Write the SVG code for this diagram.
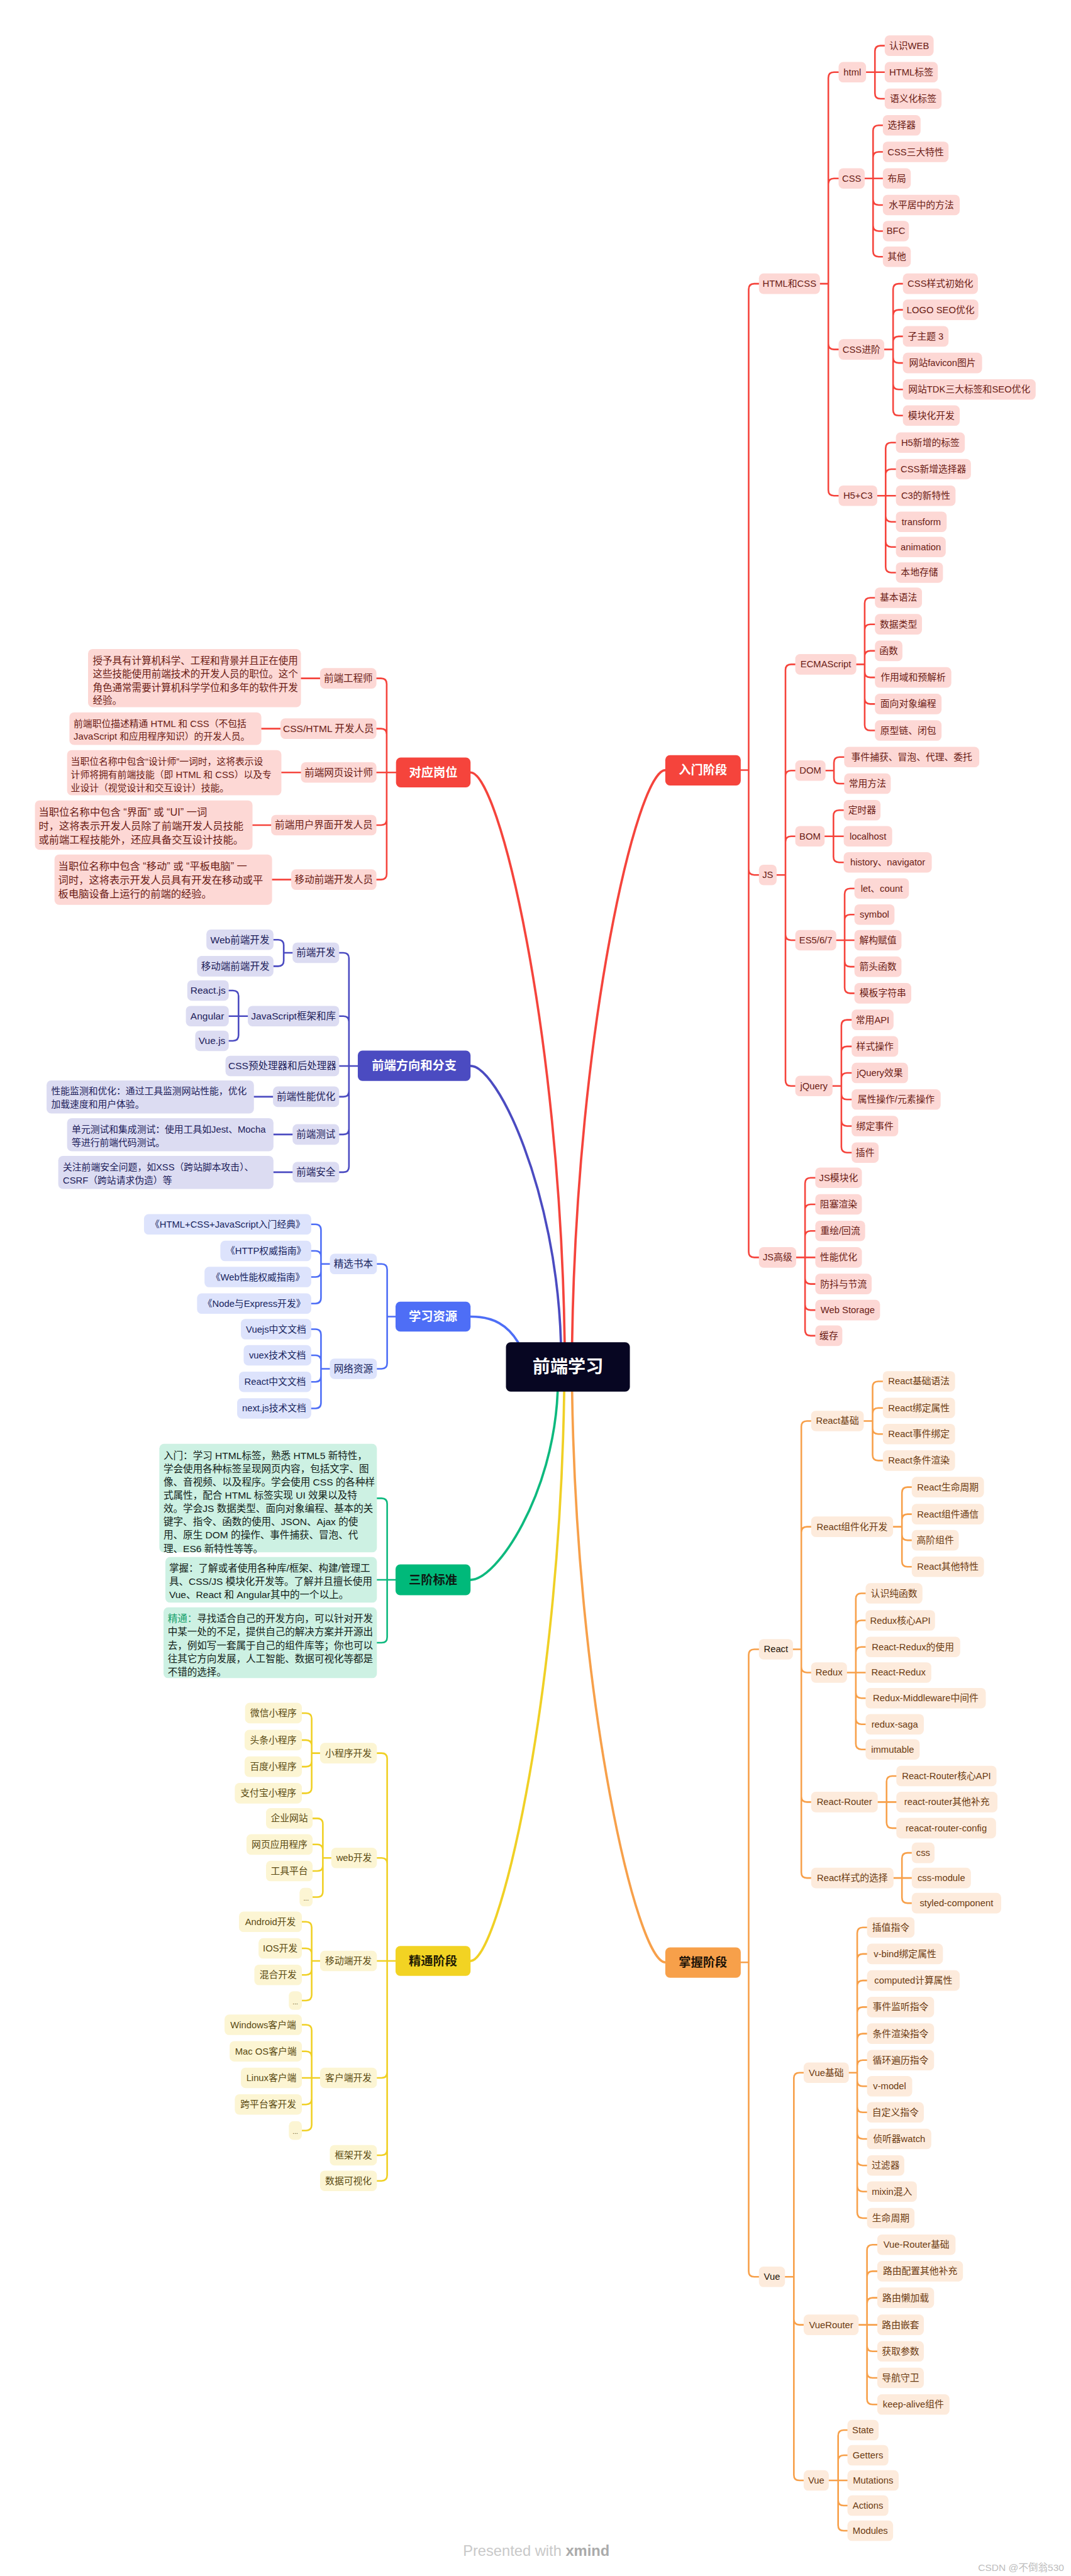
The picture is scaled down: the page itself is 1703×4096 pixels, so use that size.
<svg xmlns="http://www.w3.org/2000/svg" width="1703" height="4096" viewBox="0 0 1703 4096">
<style>
text{font-family:"Liberation Sans","Noto Sans CJK SC",sans-serif}
rect{rx:10px}
.n text{text-anchor:middle;dominant-baseline:central;font-size:20px}
.L .n text{font-size:21px}
.B .lf text{font-size:20px}
.d text{dominant-baseline:central;font-size:21px}
.m text{text-anchor:middle;dominant-baseline:central;font-size:26px;font-weight:bold}
.R rect{fill:#FDD8D5}.R text{fill:#6A1B14}
.P rect{fill:#DCDCF2}.P text{fill:#20205A}
.B rect{fill:#DDE3FC}.B text{fill:#17235E}
.G rect{fill:#CDF1E3}.G text{fill:#122018}
.Y rect{fill:#FCF5D3}.Y text{fill:#5A4A12}
.O rect{fill:#FDEBDC}.O text{fill:#6B3A10}
.c{fill:none;stroke-width:3.5;stroke-linecap:round;stroke-linejoin:round}
.mc{fill:none;stroke-width:5;stroke-linecap:round}
.sR{stroke:#F5443C}.sP{stroke:#4B4BC1}.sB{stroke:#4E6EF6}.sG{stroke:#0DB97E}.sY{stroke:#F0D025}.sO{stroke:#F7A04A}
</style>
<rect width="1703" height="4096" fill="#ffffff" style="rx:0"/>
<g transform="scale(0.7408)">
<g id="connectors">
<path class="mc sR" d="M1228 2881C1238 2206 1368 1653 1428 1653"/>
<path class="mc sO" d="M1228 2987C1238 3661 1368 4212 1428 4212"/>
<path class="mc sR" d="M1212 2881C1202 2208 1071 1658 1010 1658"/>
<path class="mc sP" d="M1204 2881C1194 2555 1068 2288 1010 2288"/>
<path class="mc sB" d="M1112 2881C1090 2845 1060 2826 1010 2826"/>
<path class="mc sG" d="M1197 2987C1188 3209 1066 3391 1010 3391"/>
<path class="mc sY" d="M1211 2987C1201 3659 1070 4209 1010 4209"/>
<path class="c sR" d="M1590 1653H1607M1607 1653V621Q1607 609 1619 609H1629M1607 1653V1866Q1607 1878 1619 1878H1629M1607 1653V2687Q1607 2699 1619 2699H1629"/>
<path class="c sR" d="M1760 609H1778M1778 609V167Q1778 155 1790 155H1800M1778 609V395Q1778 383 1790 383H1800M1778 609V738Q1778 750 1790 750H1800M1778 609V1052Q1778 1064 1790 1064H1800"/>
<path class="c sR" d="M1859 155H1899M1878 155V110Q1878 98 1890 98H1899M1878 155V200Q1878 212 1890 212H1899"/>
<path class="c sR" d="M1856 383H1895M1874 383V281Q1874 269 1886 269H1895M1874 383V338Q1874 326 1886 326H1895M1874 383V428Q1874 440 1886 440H1895M1874 383V484Q1874 496 1886 496H1895M1874 383V539Q1874 551 1886 551H1895"/>
<path class="c sR" d="M1898 750H1917M1917 750V621Q1917 609 1929 609H1938M1917 750V677Q1917 665 1929 665H1938M1917 750V734Q1917 722 1929 722H1938M1917 750V767Q1917 779 1929 779H1938M1917 750V824Q1917 836 1929 836H1938M1917 750V880Q1917 892 1929 892H1938"/>
<path class="c sR" d="M1883 1064H1923M1901 1064V962Q1901 950 1913 950H1923M1901 1064V1019Q1901 1007 1913 1007H1923M1901 1064V1108Q1901 1120 1913 1120H1923M1901 1064V1162Q1901 1174 1913 1174H1923M1901 1064V1217Q1901 1229 1913 1229H1923"/>
<path class="c sR" d="M1667 1878H1686M1686 1878V1438Q1686 1426 1698 1426H1707M1686 1878V1666Q1686 1654 1698 1654H1707M1686 1878V1807Q1686 1795 1698 1795H1707M1686 1878V2006Q1686 2018 1698 2018H1707M1686 1878V2319Q1686 2331 1698 2331H1707"/>
<path class="c sR" d="M1838 1426H1856M1856 1426V1295Q1856 1283 1868 1283H1878M1856 1426V1352Q1856 1340 1868 1340H1878M1856 1426V1409Q1856 1397 1868 1397H1878M1856 1426V1442Q1856 1454 1868 1454H1878M1856 1426V1499Q1856 1511 1868 1511H1878M1856 1426V1556Q1856 1568 1868 1568H1878"/>
<path class="c sR" d="M1772 1654H1790M1790 1654V1637Q1790 1625 1802 1625H1812M1790 1654V1670Q1790 1682 1802 1682H1812"/>
<path class="c sR" d="M1770 1795H1811M1789 1795V1751Q1789 1739 1801 1739H1811M1789 1795V1839Q1789 1851 1801 1851H1811"/>
<path class="c sR" d="M1795 2018H1834M1813 2018V1919Q1813 1907 1825 1907H1834M1813 2018V1975Q1813 1963 1825 1963H1834M1813 2018V2063Q1813 2075 1825 2075H1834M1813 2018V2120Q1813 2132 1825 2132H1834"/>
<path class="c sR" d="M1787 2331H1806M1806 2331V2201Q1806 2189 1818 2189H1828M1806 2331V2258Q1806 2246 1818 2246H1828M1806 2331V2315Q1806 2303 1818 2303H1828M1806 2331V2348Q1806 2360 1818 2360H1828M1806 2331V2405Q1806 2417 1818 2417H1828M1806 2331V2462Q1806 2474 1818 2474H1828"/>
<path class="c sR" d="M1709 2699H1750M1728 2699V2540Q1728 2528 1740 2528H1750M1728 2699V2597Q1728 2585 1740 2585H1750M1728 2699V2654Q1728 2642 1740 2642H1750M1728 2699V2744Q1728 2756 1740 2756H1750M1728 2699V2800Q1728 2812 1740 2812H1750M1728 2699V2855Q1728 2867 1740 2867H1750"/>
<path class="c sO" d="M1590 4212H1607M1607 4212V3552Q1607 3540 1619 3540H1629M1607 4212V4875Q1607 4887 1619 4887H1629"/>
<path class="c sO" d="M1702 3540H1720M1720 3540V3062Q1720 3050 1732 3050H1741M1720 3540V3289Q1720 3277 1732 3277H1741M1720 3540V3578Q1720 3590 1732 3590H1741M1720 3540V3856Q1720 3868 1732 3868H1741M1720 3540V4019Q1720 4031 1732 4031H1741"/>
<path class="c sO" d="M1854 3050H1873M1873 3050V2977Q1873 2965 1885 2965H1895M1873 3050V3034Q1873 3022 1885 3022H1895M1873 3050V3066Q1873 3078 1885 3078H1895M1873 3050V3123Q1873 3135 1885 3135H1895"/>
<path class="c sO" d="M1917 3277H1936M1936 3277V3204Q1936 3192 1948 3192H1957M1936 3277V3262Q1936 3250 1948 3250H1957M1936 3277V3294Q1936 3306 1948 3306H1957M1936 3277V3351Q1936 3363 1948 3363H1957"/>
<path class="c sO" d="M1818 3590H1858M1837 3590V3432Q1837 3420 1849 3420H1858M1837 3590V3490Q1837 3478 1849 3478H1858M1837 3590V3547Q1837 3535 1849 3535H1858M1837 3590V3633Q1837 3645 1849 3645H1858M1837 3590V3689Q1837 3701 1849 3701H1858M1837 3590V3743Q1837 3755 1849 3755H1858"/>
<path class="c sO" d="M1884 3868H1924M1903 3868V3824Q1903 3812 1915 3812H1924M1903 3868V3912Q1903 3924 1915 3924H1924"/>
<path class="c sO" d="M1918 4031H1957M1936 4031V3989Q1936 3977 1948 3977H1957M1936 4031V4073Q1936 4085 1948 4085H1957"/>
<path class="c sO" d="M1685 4887H1704M1704 4887V4461Q1704 4449 1716 4449H1725M1704 4887V4978Q1704 4990 1716 4990H1725M1704 4887V5312Q1704 5324 1716 5324H1725"/>
<path class="c sO" d="M1822 4449H1840M1840 4449V4149Q1840 4137 1852 4137H1861M1840 4449V4206Q1840 4194 1852 4194H1861M1840 4449V4263Q1840 4251 1852 4251H1861M1840 4449V4320Q1840 4308 1852 4308H1861M1840 4449V4377Q1840 4365 1852 4365H1861M1840 4449V4434Q1840 4422 1852 4422H1861M1840 4449V4466Q1840 4478 1852 4478H1861M1840 4449V4522Q1840 4534 1852 4534H1861M1840 4449V4579Q1840 4591 1852 4591H1861M1840 4449V4636Q1840 4648 1852 4648H1861M1840 4449V4692Q1840 4704 1852 4704H1861M1840 4449V4749Q1840 4761 1852 4761H1861"/>
<path class="c sO" d="M1843 4990H1883M1861 4990V4830Q1861 4818 1873 4818H1883M1861 4990V4887Q1861 4875 1873 4875H1883M1861 4990V4944Q1861 4932 1873 4932H1883M1861 4990V5035Q1861 5047 1873 5047H1883M1861 4990V5092Q1861 5104 1873 5104H1883M1861 4990V5149Q1861 5161 1873 5161H1883"/>
<path class="c sO" d="M1779 5324H1819M1799 5324V5228Q1799 5216 1811 5216H1819M1799 5324V5282Q1799 5270 1811 5270H1819M1799 5324V5366Q1799 5378 1811 5378H1819M1799 5324V5420Q1799 5432 1811 5432H1819"/>
<path class="c sR" d="M850 1658H808M830 1658V1468Q830 1456 818 1456H808M830 1658V1576Q830 1564 818 1564H808M830 1658V1759Q830 1771 818 1771H808M830 1658V1876Q830 1888 818 1888H808"/>
<path class="c sR" d="M687 1456H646M602 1564H561M646 1658H604M582 1771H542M625 1888H584"/>
<path class="c sP" d="M768 2288H728M749 2288V2057Q749 2045 737 2045H728M749 2288V2193Q749 2181 737 2181H728M749 2288V2342Q749 2354 737 2354H728M749 2288V2423Q749 2435 737 2435H728M749 2288V2504Q749 2516 737 2516H728"/>
<path class="c sP" d="M628 2045H609M609 2045V2029Q609 2017 597 2017H587M609 2045V2062Q609 2074 597 2074H587"/>
<path class="c sP" d="M532 2181H491M512 2181V2138Q512 2126 500 2126H491M512 2181V2222Q512 2234 500 2234H491"/>
<path class="c sP" d="M586 2354H545M628 2435H587M628 2516H587"/>
<path class="c sB" d="M849 2826H831M831 2826V2725Q831 2713 819 2713H809M831 2826V2926Q831 2938 819 2938H809"/>
<path class="c sB" d="M708 2713H689M689 2713V2640Q689 2628 677 2628H668M689 2713V2697Q689 2685 677 2685H668M689 2713V2729Q689 2741 677 2741H668M689 2713V2786Q689 2798 677 2798H668"/>
<path class="c sB" d="M708 2938H689M689 2938V2865Q689 2853 677 2853H668M689 2938V2921Q689 2909 677 2909H668M689 2938V2954Q689 2966 677 2966H668M689 2938V3011Q689 3023 677 3023H668"/>
<path class="c sG" d="M849 3391H809M831 3391V3228Q831 3216 819 3216H809M831 3391V3514Q831 3526 819 3526H809"/>
<path class="c sY" d="M849 4209H809M831 4209V3775Q831 3763 819 3763H809M831 4209V4000Q831 3988 819 3988H809M831 4209V4448Q831 4460 819 4460H809M831 4209V4614Q831 4626 819 4626H809M831 4209V4669Q831 4681 819 4681H809"/>
<path class="c sY" d="M687 3763H669M669 3763V3689Q669 3677 657 3677H648M669 3763V3747Q669 3735 657 3735H648M669 3763V3780Q669 3792 657 3792H648M669 3763V3837Q669 3849 657 3849H648"/>
<path class="c sY" d="M711 3988H693M693 3988V3915Q693 3903 681 3903H671M693 3988V3971Q693 3959 681 3959H671M693 3988V4004Q693 4016 681 4016H671M693 3988V4060Q693 4072 681 4072H671"/>
<path class="c sY" d="M687 4209H669M669 4209V4137Q669 4125 657 4125H648M669 4209V4194Q669 4182 657 4182H648M669 4209V4227Q669 4239 657 4239H648M669 4209V4282Q669 4294 657 4294H648"/>
<path class="c sY" d="M687 4460H648M669 4460V4358Q669 4346 657 4346H648M669 4460V4415Q669 4403 657 4403H648M669 4460V4505Q669 4517 657 4517H648M669 4460V4561Q669 4573 657 4573H648"/>
</g>

<g id="root"><rect x="1086" y="2881" width="266" height="106" fill="#070622"/><text x="1219" y="2934" fill="#ffffff" font-size="38" text-anchor="middle" dominant-baseline="central" font-weight="bold">前端学习</text></g>

<g class="m">
<g id="main-rumen"><rect x="1428" y="1621" width="162" height="65" fill="#F5443C"/><text x="1509" y="1653.5" fill="#fff">入门阶段</text></g>
<g id="main-zhangwo"><rect x="1428" y="4180" width="162" height="65" fill="#F7A04A"/><text x="1509" y="4212.5" fill="#1E1408">掌握阶段</text></g>
<g id="main-gangwei"><rect x="850" y="1626" width="160" height="64" fill="#F5443C"/><text x="930" y="1658" fill="#fff">对应岗位</text></g>
<g id="main-fangxiang"><rect x="768" y="2255" width="242" height="65" fill="#4B4BC1"/><text x="889" y="2288" fill="#fff">前端方向和分支</text></g>
<g id="main-ziyuan"><rect x="849" y="2794" width="161" height="64" fill="#4E6EF6"/><text x="929.5" y="2826" fill="#fff">学习资源</text></g>
<g id="main-sanjie"><rect x="849" y="3358" width="161" height="66" fill="#00B97A"/><text x="929.5" y="3391" fill="#0E1A14">三阶标准</text></g>
<g id="main-jingtong"><rect x="849" y="4177" width="161" height="64" fill="#F2D323"/><text x="929.5" y="4209" fill="#221C04">精通阶段</text></g>
</g>

<g class="R">
<g class="n" id="r1"><rect x="1629" y="587" width="131" height="44"/><text x="1694.5" y="609">HTML和CSS</text></g>
<g class="n" id="r2"><rect x="1629" y="1856" width="38" height="44"/><text x="1648" y="1878">JS</text></g>
<g class="n" id="r3"><rect x="1629" y="2677" width="80" height="44"/><text x="1669" y="2699">JS高级</text></g>
<g class="n" id="r4"><rect x="1800" y="133" width="59" height="44"/><text x="1829.5" y="155">html</text></g>
<g class="n" id="r5"><rect x="1800" y="361" width="56" height="44"/><text x="1828" y="383">CSS</text></g>
<g class="n" id="r6"><rect x="1800" y="728" width="98" height="44"/><text x="1849" y="750">CSS进阶</text></g>
<g class="n" id="r7"><rect x="1800" y="1042" width="83" height="44"/><text x="1841.5" y="1064">H5+C3</text></g>
<g class="n" id="r8"><rect x="1899" y="76" width="105" height="44"/><text x="1951.5" y="98">认识WEB</text></g>
<g class="n" id="r9"><rect x="1899" y="133" width="114" height="44"/><text x="1956" y="155">HTML标签</text></g>
<g class="n" id="r10"><rect x="1899" y="190" width="122" height="44"/><text x="1960" y="212">语义化标签</text></g>
<g class="n" id="r11"><rect x="1895" y="247" width="81" height="44"/><text x="1935.5" y="269">选择器</text></g>
<g class="n" id="r12"><rect x="1895" y="304" width="141" height="44"/><text x="1965.5" y="326">CSS三大特性</text></g>
<g class="n" id="r13"><rect x="1895" y="361" width="60" height="44"/><text x="1925" y="383">布局</text></g>
<g class="n" id="r14"><rect x="1895" y="418" width="165" height="44"/><text x="1977.5" y="440">水平居中的方法</text></g>
<g class="n" id="r15"><rect x="1895" y="474" width="56" height="44"/><text x="1923" y="496">BFC</text></g>
<g class="n" id="r16"><rect x="1895" y="529" width="60" height="44"/><text x="1925" y="551">其他</text></g>
<g class="n" id="r17"><rect x="1938" y="587" width="161" height="44"/><text x="2018.5" y="609">CSS样式初始化</text></g>
<g class="n" id="r18"><rect x="1938" y="643" width="162" height="44"/><text x="2019" y="665">LOGO SEO优化</text></g>
<g class="n" id="r19"><rect x="1938" y="700" width="98" height="44"/><text x="1987" y="722">子主题 3</text></g>
<g class="n" id="r20"><rect x="1938" y="757" width="170" height="44"/><text x="2023" y="779">网站favicon图片</text></g>
<g class="n" id="r21"><rect x="1938" y="814" width="285" height="44"/><text x="2080.5" y="836">网站TDK三大标签和SEO优化</text></g>
<g class="n" id="r22"><rect x="1938" y="870" width="122" height="44"/><text x="1999" y="892">模块化开发</text></g>
<g class="n" id="r23"><rect x="1923" y="928" width="148" height="44"/><text x="1997" y="950">H5新增的标签</text></g>
<g class="n" id="r24"><rect x="1923" y="985" width="161" height="44"/><text x="2003.5" y="1007">CSS新增选择器</text></g>
<g class="n" id="r25"><rect x="1923" y="1042" width="128" height="44"/><text x="1987" y="1064">C3的新特性</text></g>
<g class="n" id="r26"><rect x="1923" y="1098" width="109" height="44"/><text x="1977.5" y="1120">transform</text></g>
<g class="n" id="r27"><rect x="1923" y="1152" width="107" height="44"/><text x="1976.5" y="1174">animation</text></g>
<g class="n" id="r28"><rect x="1923" y="1207" width="101" height="44"/><text x="1973.5" y="1229">本地存储</text></g>
<g class="n" id="r29"><rect x="1707" y="1404" width="131" height="44"/><text x="1772.5" y="1426">ECMAScript</text></g>
<g class="n" id="r30"><rect x="1878" y="1261" width="101" height="44"/><text x="1928.5" y="1283">基本语法</text></g>
<g class="n" id="r31"><rect x="1878" y="1318" width="101" height="44"/><text x="1928.5" y="1340">数据类型</text></g>
<g class="n" id="r32"><rect x="1878" y="1375" width="59" height="44"/><text x="1907.5" y="1397">函数</text></g>
<g class="n" id="r33"><rect x="1878" y="1432" width="164" height="44"/><text x="1960" y="1454">作用域和预解析</text></g>
<g class="n" id="r34"><rect x="1878" y="1489" width="143" height="44"/><text x="1949.5" y="1511">面向对象编程</text></g>
<g class="n" id="r35"><rect x="1878" y="1546" width="143" height="44"/><text x="1949.5" y="1568">原型链、闭包</text></g>
<g class="n" id="r36"><rect x="1707" y="1632" width="65" height="44"/><text x="1739.5" y="1654">DOM</text></g>
<g class="n" id="r37"><rect x="1812" y="1603" width="290" height="44"/><text x="1957" y="1625">事件捕获、冒泡、代理、委托</text></g>
<g class="n" id="r38"><rect x="1812" y="1660" width="100" height="44"/><text x="1862" y="1682">常用方法</text></g>
<g class="n" id="r39"><rect x="1707" y="1773" width="63" height="44"/><text x="1738.5" y="1795">BOM</text></g>
<g class="n" id="r40"><rect x="1811" y="1717" width="79" height="44"/><text x="1850.5" y="1739">定时器</text></g>
<g class="n" id="r41"><rect x="1811" y="1773" width="104" height="44"/><text x="1863" y="1795">localhost</text></g>
<g class="n" id="r42"><rect x="1811" y="1829" width="189" height="44"/><text x="1905.5" y="1851">history、navigator</text></g>
<g class="n" id="r43"><rect x="1707" y="1996" width="88" height="44"/><text x="1751" y="2018">ES5/6/7</text></g>
<g class="n" id="r44"><rect x="1834" y="1885" width="117" height="44"/><text x="1892.5" y="1907">let、count</text></g>
<g class="n" id="r45"><rect x="1834" y="1941" width="86" height="44"/><text x="1877" y="1963">symbol</text></g>
<g class="n" id="r46"><rect x="1834" y="1996" width="101" height="44"/><text x="1884.5" y="2018">解构赋值</text></g>
<g class="n" id="r47"><rect x="1834" y="2053" width="101" height="44"/><text x="1884.5" y="2075">箭头函数</text></g>
<g class="n" id="r48"><rect x="1834" y="2110" width="122" height="44"/><text x="1895" y="2132">模板字符串</text></g>
<g class="n" id="r49"><rect x="1707" y="2309" width="80" height="44"/><text x="1747" y="2331">jQuery</text></g>
<g class="n" id="r50"><rect x="1828" y="2167" width="90" height="44"/><text x="1873" y="2189">常用API</text></g>
<g class="n" id="r51"><rect x="1828" y="2224" width="100" height="44"/><text x="1878" y="2246">样式操作</text></g>
<g class="n" id="r52"><rect x="1828" y="2281" width="121" height="44"/><text x="1888.5" y="2303">jQuery效果</text></g>
<g class="n" id="r53"><rect x="1828" y="2338" width="191" height="44"/><text x="1923.5" y="2360">属性操作/元素操作</text></g>
<g class="n" id="r54"><rect x="1828" y="2395" width="100" height="44"/><text x="1878" y="2417">绑定事件</text></g>
<g class="n" id="r55"><rect x="1828" y="2452" width="58" height="44"/><text x="1857" y="2474">插件</text></g>
<g class="n" id="r56"><rect x="1750" y="2506" width="100" height="44"/><text x="1800" y="2528">JS模块化</text></g>
<g class="n" id="r57"><rect x="1750" y="2563" width="100" height="44"/><text x="1800" y="2585">阻塞渲染</text></g>
<g class="n" id="r58"><rect x="1750" y="2620" width="107" height="44"/><text x="1803.5" y="2642">重绘/回流</text></g>
<g class="n" id="r59"><rect x="1750" y="2677" width="100" height="44"/><text x="1800" y="2699">性能优化</text></g>
<g class="n" id="r60"><rect x="1750" y="2734" width="121" height="44"/><text x="1810.5" y="2756">防抖与节流</text></g>
<g class="n" id="r61"><rect x="1750" y="2790" width="139" height="44"/><text x="1819.5" y="2812">Web Storage</text></g>
<g class="n" id="r62"><rect x="1750" y="2845" width="58" height="44"/><text x="1779" y="2867">缓存</text></g>
</g>

<g class="O">
<g class="n" id="o1"><rect x="1629" y="3518" width="73" height="44"/><text x="1665.5" y="3540" style="fill:#1E1408">React</text></g>
<g class="n" id="o2"><rect x="1629" y="4865" width="56" height="44"/><text x="1657" y="4887" style="fill:#1E1408">Vue</text></g>
<g class="n" id="o3"><rect x="1741" y="3028" width="113" height="44"/><text x="1797.5" y="3050">React基础</text></g>
<g class="n" id="o4"><rect x="1741" y="3255" width="176" height="44"/><text x="1829" y="3277">React组件化开发</text></g>
<g class="n" id="o5"><rect x="1741" y="3568" width="77" height="44"/><text x="1779.5" y="3590">Redux</text></g>
<g class="n" id="o6"><rect x="1741" y="3846" width="143" height="44"/><text x="1812.5" y="3868">React-Router</text></g>
<g class="n" id="o7"><rect x="1741" y="4009" width="177" height="44"/><text x="1829.5" y="4031">React样式的选择</text></g>
<g class="n" id="o8"><rect x="1895" y="2943" width="155" height="44"/><text x="1972.5" y="2965">React基础语法</text></g>
<g class="n" id="o9"><rect x="1895" y="3000" width="155" height="44"/><text x="1972.5" y="3022">React绑定属性</text></g>
<g class="n" id="o10"><rect x="1895" y="3056" width="155" height="44"/><text x="1972.5" y="3078">React事件绑定</text></g>
<g class="n" id="o11"><rect x="1895" y="3113" width="155" height="44"/><text x="1972.5" y="3135">React条件渲染</text></g>
<g class="n" id="o12"><rect x="1957" y="3170" width="155" height="44"/><text x="2034.5" y="3192">React生命周期</text></g>
<g class="n" id="o13"><rect x="1957" y="3228" width="155" height="44"/><text x="2034.5" y="3250">React组件通信</text></g>
<g class="n" id="o14"><rect x="1957" y="3284" width="101" height="44"/><text x="2007.5" y="3306">高阶组件</text></g>
<g class="n" id="o15"><rect x="1957" y="3341" width="155" height="44"/><text x="2034.5" y="3363">React其他特性</text></g>
<g class="n" id="o16"><rect x="1858" y="3398" width="122" height="44"/><text x="1919" y="3420">认识纯函数</text></g>
<g class="n" id="o17"><rect x="1858" y="3456" width="149" height="44"/><text x="1932.5" y="3478">Redux核心API</text></g>
<g class="n" id="o18"><rect x="1858" y="3513" width="203" height="44"/><text x="1959.5" y="3535">React-Redux的使用</text></g>
<g class="n" id="o19"><rect x="1858" y="3568" width="141" height="44"/><text x="1928.5" y="3590">React-Redux</text></g>
<g class="n" id="o20"><rect x="1858" y="3623" width="258" height="44"/><text x="1987" y="3645">Redux-Middleware中间件</text></g>
<g class="n" id="o21"><rect x="1858" y="3679" width="125" height="44"/><text x="1920.5" y="3701">redux-saga</text></g>
<g class="n" id="o22"><rect x="1858" y="3733" width="116" height="44"/><text x="1916" y="3755">immutable</text></g>
<g class="n" id="o23"><rect x="1924" y="3790" width="215" height="44"/><text x="2031.5" y="3812">React-Router核心API</text></g>
<g class="n" id="o24"><rect x="1924" y="3846" width="217" height="44"/><text x="2032.5" y="3868">react-router其他补充</text></g>
<g class="n" id="o25"><rect x="1924" y="3902" width="214" height="44"/><text x="2031" y="3924">reacat-router-config</text></g>
<g class="n" id="o26"><rect x="1957" y="3955" width="49" height="44"/><text x="1981.5" y="3977">css</text></g>
<g class="n" id="o27"><rect x="1957" y="4009" width="127" height="44"/><text x="2020.5" y="4031">css-module</text></g>
<g class="n" id="o28"><rect x="1957" y="4063" width="192" height="44"/><text x="2053" y="4085">styled-component</text></g>
<g class="n" id="o29"><rect x="1725" y="4427" width="97" height="44"/><text x="1773.5" y="4449">Vue基础</text></g>
<g class="n" id="o30"><rect x="1725" y="4968" width="118" height="44"/><text x="1784" y="4990">VueRouter</text></g>
<g class="n" id="o31"><rect x="1725" y="5302" width="54" height="44"/><text x="1752" y="5324">Vue</text></g>
<g class="n" id="o32"><rect x="1861" y="4115" width="102" height="44"/><text x="1912" y="4137">插值指令</text></g>
<g class="n" id="o33"><rect x="1861" y="4172" width="163" height="44"/><text x="1942.5" y="4194">v-bind绑定属性</text></g>
<g class="n" id="o34"><rect x="1861" y="4229" width="199" height="44"/><text x="1960.5" y="4251">computed计算属性</text></g>
<g class="n" id="o35"><rect x="1861" y="4286" width="144" height="44"/><text x="1933" y="4308">事件监听指令</text></g>
<g class="n" id="o36"><rect x="1861" y="4343" width="144" height="44"/><text x="1933" y="4365">条件渲染指令</text></g>
<g class="n" id="o37"><rect x="1861" y="4400" width="144" height="44"/><text x="1933" y="4422">循环遍历指令</text></g>
<g class="n" id="o38"><rect x="1861" y="4456" width="97" height="44"/><text x="1909.5" y="4478">v-model</text></g>
<g class="n" id="o39"><rect x="1861" y="4512" width="122" height="44"/><text x="1922" y="4534">自定义指令</text></g>
<g class="n" id="o40"><rect x="1861" y="4569" width="138" height="44"/><text x="1930" y="4591">侦听器watch</text></g>
<g class="n" id="o41"><rect x="1861" y="4626" width="80" height="44"/><text x="1901" y="4648">过滤器</text></g>
<g class="n" id="o42"><rect x="1861" y="4682" width="107" height="44"/><text x="1914.5" y="4704">mixin混入</text></g>
<g class="n" id="o43"><rect x="1861" y="4739" width="102" height="44"/><text x="1912" y="4761">生命周期</text></g>
<g class="n" id="o44"><rect x="1883" y="4796" width="168" height="44"/><text x="1967" y="4818">Vue-Router基础</text></g>
<g class="n" id="o45"><rect x="1883" y="4853" width="184" height="44"/><text x="1975" y="4875">路由配置其他补充</text></g>
<g class="n" id="o46"><rect x="1883" y="4910" width="122" height="44"/><text x="1944" y="4932">路由懒加载</text></g>
<g class="n" id="o47"><rect x="1883" y="4968" width="100" height="44"/><text x="1933" y="4990">路由嵌套</text></g>
<g class="n" id="o48"><rect x="1883" y="5025" width="100" height="44"/><text x="1933" y="5047">获取参数</text></g>
<g class="n" id="o49"><rect x="1883" y="5082" width="100" height="44"/><text x="1933" y="5104">导航守卫</text></g>
<g class="n" id="o50"><rect x="1883" y="5139" width="155" height="44"/><text x="1960.5" y="5161">keep-alive组件</text></g>
<g class="n" id="o51"><rect x="1819" y="5194" width="67" height="44"/><text x="1852.5" y="5216">State</text></g>
<g class="n" id="o52"><rect x="1819" y="5248" width="88" height="44"/><text x="1863" y="5270">Getters</text></g>
<g class="n" id="o53"><rect x="1819" y="5302" width="110" height="44"/><text x="1874" y="5324">Mutations</text></g>
<g class="n" id="o54"><rect x="1819" y="5356" width="88" height="44"/><text x="1863" y="5378">Actions</text></g>
<g class="n" id="o55"><rect x="1819" y="5410" width="98" height="44"/><text x="1868" y="5432">Modules</text></g>
</g>

<g class="R L">
<g class="n" id="g1"><rect x="687" y="1434" width="121" height="44"/><text x="747.5" y="1456">前端工程师</text></g>
<g class="n" id="g2"><rect x="602" y="1542" width="206" height="44"/><text x="705" y="1564">CSS/HTML 开发人员</text></g>
<g class="n" id="g3"><rect x="646" y="1636" width="162" height="44"/><text x="727" y="1658">前端网页设计师</text></g>
<g class="n" id="g4"><rect x="582" y="1749" width="226" height="44"/><text x="695" y="1771">前端用户界面开发人员</text></g>
<g class="n" id="g5"><rect x="625" y="1866" width="183" height="44"/><text x="716.5" y="1888">移动前端开发人员</text></g>
<g class="d" id="gd1"><rect x="189" y="1393" width="457" height="125"/><text><tspan x="199" y="1417">授予具有计算机科学、工程和背景并且正在使用</tspan><tspan x="199" y="1446">这些技能使用前端技术的开发人员的职位。这个</tspan><tspan x="199" y="1475">角色通常需要计算机科学学位和多年的软件开发</tspan><tspan x="199" y="1503">经验。</tspan></text></g>
<g class="d" id="gd2"><rect x="149" y="1529" width="412" height="70"/><text style="font-size:20px"><tspan x="158" y="1554">前端职位描述精通 HTML 和 CSS（不包括</tspan><tspan x="158" y="1581">JavaScript 和应用程序知识）的开发人员。</tspan></text></g>
<g class="d" id="gd3"><rect x="144" y="1610" width="460" height="97"/><text style="font-size:20px"><tspan x="152" y="1635">当职位名称中包含“设计师”一词时，这将表示设</tspan><tspan x="152" y="1663">计师将拥有前端技能（即 HTML 和 CSS）以及专</tspan><tspan x="152" y="1691">业设计（视觉设计和交互设计）技能。</tspan></text></g>
<g class="d" id="gd4"><rect x="75" y="1718" width="467" height="106"/><text style="font-size:22px"><tspan x="83" y="1743">当职位名称中包含 “界面” 或 “UI” 一词</tspan><tspan x="83" y="1772">时，这将表示开发人员除了前端开发人员技能</tspan><tspan x="83" y="1802">或前端工程技能外，还应具备交互设计技能。</tspan></text></g>
<g class="d" id="gd5"><rect x="117" y="1834" width="467" height="108"/><text style="font-size:22px"><tspan x="125" y="1859">当职位名称中包含 “移动” 或 “平板电脑” 一</tspan><tspan x="125" y="1889">词时，这将表示开发人员具有开发在移动或平</tspan><tspan x="125" y="1918">板电脑设备上运行的前端的经验。</tspan></text></g>
</g>

<g class="P L">
<g class="n" id="p1"><rect x="628" y="2023" width="100" height="44"/><text x="678" y="2045">前端开发</text></g>
<g class="n" id="p2"><rect x="443" y="1995" width="144" height="44"/><text x="515" y="2017">Web前端开发</text></g>
<g class="n" id="p3"><rect x="423" y="2052" width="164" height="44"/><text x="505" y="2074">移动端前端开发</text></g>
<g class="n" id="p4"><rect x="532" y="2159" width="196" height="44"/><text x="630" y="2181">JavaScript框架和库</text></g>
<g class="n" id="p5"><rect x="402" y="2104" width="89" height="44"/><text x="446.5" y="2126">React.js</text></g>
<g class="n" id="p6"><rect x="399" y="2159" width="92" height="44"/><text x="445" y="2181">Angular</text></g>
<g class="n" id="p7"><rect x="419" y="2212" width="72" height="44"/><text x="455" y="2234">Vue.js</text></g>
<g class="n" id="p8"><rect x="484" y="2266" width="244" height="44"/><text x="606" y="2288">CSS预处理器和后处理器</text></g>
<g class="n" id="p9"><rect x="586" y="2332" width="142" height="44"/><text x="657" y="2354">前端性能优化</text></g>
<g class="n" id="p10"><rect x="628" y="2413" width="100" height="44"/><text x="678" y="2435">前端测试</text></g>
<g class="n" id="p11"><rect x="628" y="2494" width="100" height="44"/><text x="678" y="2516">前端安全</text></g>
<g class="d" id="pd1"><rect x="100" y="2319" width="445" height="71"/><text style="font-size:20px"><tspan x="110" y="2342">性能监测和优化：通过工具监测网站性能，优化</tspan><tspan x="110" y="2370">加载速度和用户体验。</tspan></text></g>
<g class="d" id="pd2"><rect x="144" y="2400" width="443" height="71"/><text style="font-size:20px"><tspan x="154" y="2425">单元测试和集成测试：使用工具如Jest、Mocha</tspan><tspan x="154" y="2453">等进行前端代码测试。</tspan></text></g>
<g class="d" id="pd3"><rect x="125" y="2481" width="462" height="71"/><text style="font-size:20px"><tspan x="135" y="2505">关注前端安全问题，如XSS（跨站脚本攻击）、</tspan><tspan x="135" y="2534">CSRF（跨站请求伪造）等</tspan></text></g>
</g>

<g class="B L">
<g class="n" id="b1"><rect x="708" y="2691" width="101" height="44"/><text x="758.5" y="2713">精选书本</text></g>
<g class="n" id="b2"><rect x="708" y="2916" width="101" height="44"/><text x="758.5" y="2938">网络资源</text></g>
<g class="n lf" id="b3"><rect x="309" y="2606" width="359" height="44"/><text x="488.5" y="2628">《HTML+CSS+JavaScript入门经典》</text></g>
<g class="n lf" id="b4"><rect x="473" y="2663" width="195" height="44"/><text x="570.5" y="2685">《HTTP权威指南》</text></g>
<g class="n lf" id="b5"><rect x="439" y="2719" width="229" height="44"/><text x="553.5" y="2741">《Web性能权威指南》</text></g>
<g class="n lf" id="b6"><rect x="423" y="2776" width="245" height="44"/><text x="545.5" y="2798">《Node与Express开发》</text></g>
<g class="n lf" id="b7"><rect x="517" y="2831" width="151" height="44"/><text x="592.5" y="2853">Vuejs中文文档</text></g>
<g class="n lf" id="b8"><rect x="523" y="2887" width="145" height="44"/><text x="595.5" y="2909">vuex技术文档</text></g>
<g class="n lf" id="b9"><rect x="513" y="2944" width="155" height="44"/><text x="590.5" y="2966">React中文文档</text></g>
<g class="n lf" id="b10"><rect x="509" y="3001" width="159" height="44"/><text x="588.5" y="3023">next.js技术文档</text></g>
</g>

<g class="G">
<g class="d" id="sd1"><rect x="342" y="3099" width="467" height="233"/><text><tspan x="351" y="3123">入门：学习 HTML标签，熟悉 HTML5 新特性，</tspan><tspan x="351" y="3152">学会使用各种标签呈现网页内容，包括文字、图</tspan><tspan x="351" y="3180">像、音视频、以及程序。学会使用 CSS 的各种样</tspan><tspan x="351" y="3209">式属性，配合 HTML 标签实现 UI 效果以及特</tspan><tspan x="351" y="3237">效。学会JS 数据类型、面向对象编程、基本的关</tspan><tspan x="351" y="3266">键字、指令、函数的使用、JSON、Ajax 的使</tspan><tspan x="351" y="3294">用、原生 DOM 的操作、事件捕获、冒泡、代</tspan><tspan x="351" y="3323">理、ES6 新特性等等。</tspan></text></g>
<g class="d" id="sd2"><rect x="355" y="3342" width="454" height="98"/><text><tspan x="363" y="3365">掌握：了解或者使用各种库/框架、构建/管理工</tspan><tspan x="363" y="3394">具、CSS/JS 模块化开发等。了解并且擅长使用</tspan><tspan x="363" y="3422">Vue、React 和 Angular其中的一个以上。</tspan></text></g>
<g class="d" id="sd3"><rect x="351" y="3450" width="458" height="152"/><text><tspan x="360" y="3473" style="fill:#15A06A">精通：</tspan><tspan>寻找适合自己的开发方向，可以针对开发</tspan><tspan x="360" y="3502">中某一处的不足，提供自己的解决方案并开源出</tspan><tspan x="360" y="3531">去，例如写一套属于自己的组件库等；你也可以</tspan><tspan x="360" y="3560">往其它方向发展，人工智能、数据可视化等都是</tspan><tspan x="360" y="3588">不错的选择。</tspan></text></g>
</g>

<g class="Y">
<g class="n" id="y1"><rect x="687" y="3741" width="122" height="44"/><text x="748" y="3763">小程序开发</text></g>
<g class="n" id="y2"><rect x="526" y="3655" width="122" height="44"/><text x="587" y="3677">微信小程序</text></g>
<g class="n" id="y3"><rect x="525" y="3713" width="123" height="44"/><text x="586.5" y="3735">头条小程序</text></g>
<g class="n" id="y4"><rect x="525" y="3770" width="123" height="44"/><text x="586.5" y="3792">百度小程序</text></g>
<g class="n" id="y5"><rect x="504" y="3827" width="144" height="44"/><text x="576" y="3849">支付宝小程序</text></g>
<g class="n" id="y6"><rect x="711" y="3966" width="98" height="44"/><text x="760" y="3988">web开发</text></g>
<g class="n" id="y7"><rect x="571" y="3881" width="100" height="44"/><text x="621" y="3903">企业网站</text></g>
<g class="n" id="y8"><rect x="529" y="3937" width="142" height="44"/><text x="600" y="3959">网页应用程序</text></g>
<g class="n" id="y9"><rect x="571" y="3994" width="100" height="44"/><text x="621" y="4016">工具平台</text></g>
<g class="n" id="y10"><rect x="643" y="4052" width="28" height="40"/><text x="657" y="4075" style="font-size:14px">...</text></g>
<g class="n" id="y11"><rect x="687" y="4187" width="122" height="44"/><text x="748" y="4209">移动端开发</text></g>
<g class="n" id="y12"><rect x="513" y="4103" width="135" height="44"/><text x="580.5" y="4125">Android开发</text></g>
<g class="n" id="y13"><rect x="555" y="4160" width="93" height="44"/><text x="601.5" y="4182">IOS开发</text></g>
<g class="n" id="y14"><rect x="546" y="4217" width="102" height="44"/><text x="597" y="4239">混合开发</text></g>
<g class="n" id="y15"><rect x="620" y="4274" width="28" height="40"/><text x="634" y="4297" style="font-size:14px">...</text></g>
<g class="n" id="y16"><rect x="687" y="4438" width="122" height="44"/><text x="748" y="4460">客户端开发</text></g>
<g class="n" id="y17"><rect x="482" y="4324" width="166" height="44"/><text x="565" y="4346">Windows客户端</text></g>
<g class="n" id="y18"><rect x="493" y="4381" width="155" height="44"/><text x="570.5" y="4403">Mac OS客户端</text></g>
<g class="n" id="y19"><rect x="517" y="4438" width="131" height="44"/><text x="582.5" y="4460">Linux客户端</text></g>
<g class="n" id="y20"><rect x="504" y="4495" width="144" height="44"/><text x="576" y="4517">跨平台客开发</text></g>
<g class="n" id="y21"><rect x="620" y="4553" width="28" height="40"/><text x="634" y="4576" style="font-size:14px">...</text></g>
<g class="n" id="y22"><rect x="708" y="4604" width="101" height="44"/><text x="758.5" y="4626">框架开发</text></g>
<g class="n" id="y23"><rect x="687" y="4659" width="122" height="44"/><text x="748" y="4681">数据可视化</text></g>
</g>

<text x="1151" y="5486" text-anchor="middle" font-size="32" fill="#C9C9C9">Presented with <tspan font-weight="bold" fill="#ABABAB">xmind</tspan></text>
<text x="2284" y="5511" text-anchor="end" dominant-baseline="central" font-size="21" fill="#BDBDBD">CSDN @不倒翁530</text>
</g>
</svg>
